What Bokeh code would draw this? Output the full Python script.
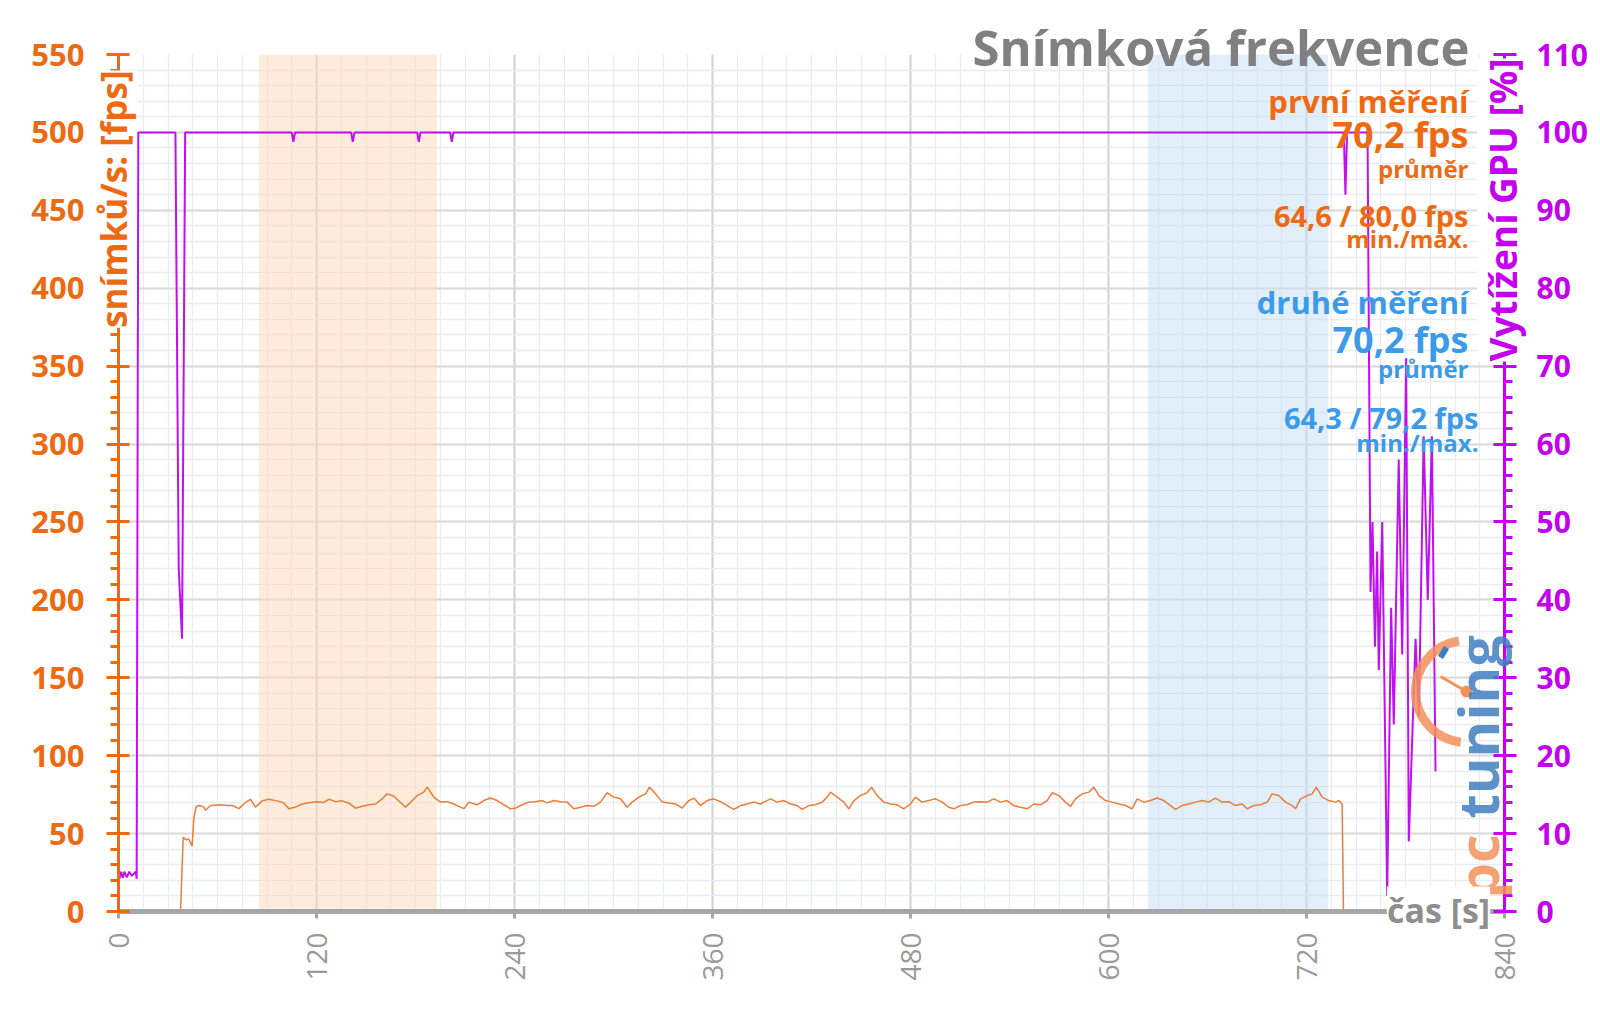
import numpy as np
from bokeh.plotting import figure
from bokeh.models import Range1d, LinearAxis, SingleIntervalTicker, BoxAnnotation, Label
from bokeh.embed import file_html
from bokeh.resources import INLINE

# ---------------- data ----------------
fps_time = [0, 37.6, 39.2, 41, 42.6, 44.6, 45.7, 47.1, 49, 51.7, 52.7, 55.8, 61.8, 65.9, 68.9, 72.9, 77, 80, 83, 87.1,
            91.1, 96.1, 100.2, 103.2, 107.3, 111.3, 116.4, 120.4, 124.4, 127.5, 131.5, 135.6, 139.6, 143.7, 147.7,
            151.7, 155.8, 159.8, 162.8, 166.9, 170.9, 173.9, 177, 181, 185, 187.1, 191.1, 195.2, 199.2, 203.2, 207.3,
            209.3, 212.3, 217.3, 221.4, 225.4, 229.5, 233.5, 237.6, 240.6, 244.6, 248.7, 252.7, 256.8, 259.8, 263.8,
            267.9, 271.9, 275.9, 280, 284, 288.1, 292.1, 296.2, 300.2, 304.2, 308.3, 311.3, 315.4, 319.4, 321.8,
            325.5, 329.5, 333.5, 337.6, 341.6, 345.7, 348.7, 352.7, 356.8, 360.8, 364.8, 368.9, 372.9, 377, 381, 385,
            389.1, 393.1, 395.2, 399.2, 403.2, 407.3, 411.3, 414.3, 418.4, 422.4, 426.5, 429.5, 431.5, 435.6, 439.6,
            442.6, 445.7, 449.7, 453.7, 456.4, 459.8, 463.8, 467.9, 471.9, 475.9, 480, 483, 487, 491.1, 495.2, 499.2,
            503.2, 506.3, 510.3, 514.3, 518.4, 522.4, 526.5, 530.5, 534.5, 538.6, 542.6, 546.7, 550.7, 554.7, 558.8,
            562.8, 565.9, 569.9, 573.9, 577, 580, 584.1, 588.1, 591.1, 594.2, 598.2, 602.2, 606.3, 610.3, 614.3,
            617.4, 621.4, 625.5, 629.5, 633.5, 637.6, 640.6, 644.6, 648.7, 652.7, 656.8, 660.8, 664.8, 668.9, 672.9,
            677, 681, 684, 688.1, 692.1, 696.2, 699.2, 703.2, 707.3, 711.3, 713.3, 716.4, 720.4, 723.4, 726, 729.5,
            733.5, 737.6, 739.6, 741.6, 742.4, 767]
fps_values = [0, 0, 47.6, 46, 46.5, 42, 60, 67.4, 68, 67, 65, 68, 68.5, 68, 68, 66, 70, 72, 67, 71,
              72, 71, 69.7, 66, 67, 69, 70, 70.5, 70, 72, 70.5, 71, 69.5, 66.3, 67.5,
              68.5, 69, 72.3, 75.5, 74, 70, 67, 70, 74.4, 76.6, 79.8, 73.4, 70.2, 70.5, 69, 67,
              66, 70.2, 68.5, 71.2, 72.8, 71.2, 68.5, 65.9, 66.3, 68.5, 70.2, 70.5, 71.2, 69.7, 71.2,
              70.5, 70.2, 65.9, 66.9, 68, 67.5, 70.2, 76.2, 73.4, 72.3, 66.9, 70.2, 73.4, 75.5, 79.8,
              75.5, 70.2, 69.7, 69, 66.3, 71.2, 72.8, 68, 71.2, 72.3, 70.5, 68, 65.5, 68, 69, 70.2,
              69, 71.2, 72.3, 70.2, 71.2, 69, 68, 65.5, 68, 68.5, 70.2, 73.4, 76.6, 73.4, 70.2,
              65.9, 71.2, 74.4, 76.2, 79.8, 74.4, 70.2, 69, 68.5, 65.9, 69, 73.4, 70.2, 71.2, 72.3, 70.2,
              66.9, 65.9, 68, 68.5, 70.2, 70.5, 70.2, 72.3, 70.2, 71.2, 68, 66.9, 65.9, 69, 68.5,
              71.2, 76.2, 74.4, 70.2, 67.5, 72.3, 75.5, 76.6, 79.8, 74.4, 71.2, 70.2, 69, 68, 65.9,
              72.3, 70.2, 71.2, 72.8, 71.2, 68, 65.5, 68, 69, 70.2, 71.2, 70.2, 72.8, 70.2, 70.5,
              68, 69, 65.9, 68, 68.5, 70.2, 75.5, 74.4, 70.2, 68, 65.9, 72.3, 74.4, 75.5, 79.8, 73.4,
              71.2, 70.2, 71.2, 69, 0, 0]

gpu_time = [0.5, 1.5, 2.5, 3.5, 5, 6.5, 8, 10.5, 11, 12, 34.5, 36.5, 38.5, 40.4, 105, 106, 107, 141, 142, 143,
            181, 182, 183, 201, 202, 203, 742.6, 743.6, 744.6, 757, 758.8, 760, 761.5, 762.8, 763.8, 765.9, 768.9,
            771.3, 772.9, 775.9, 778, 780.4, 782, 786.1, 788.1, 791, 793.5, 796, 798.2]
gpu_values = [4.2, 5.1, 4.3, 5.1, 4.4, 5.1, 4.6, 5.1, 4.2, 100, 100, 44, 35, 100, 100, 98.8, 100, 100, 98.8, 100,
              100, 98.8, 100, 100, 98.8, 100, 100, 92, 100, 100, 41, 50, 34, 46.2, 31, 50, 2,
              39, 24, 58, 33, 71, 9, 35, 25, 61, 40, 61, 18]

run_bands = [(85, 193), (624, 733)]
run_colors = ["#FBD9B8", "#C5DDF6"]

first_run = ["první měření", "70,2 fps", "průměr", "64,6 / 80,0 fps", "min./max."]
second_run = ["druhé měření", "70,2 fps", "průměr", "64,3 / 79,2 fps", "min./max."]

# ---------------- layout ----------------
W, H = 1600, 1009
L, R, T, B = 118, 96, 54, 98
XMAX, YMAX, GMAX = 840, 550, 110

def X(px):
    return (px - L) / (W - L - R) * XMAX

def Y(py):
    return (H - B - py) / (H - T - B) * YMAX

ORANGE = "#EE6A12"
MAGENTA = "#C400EE"
BLUE = "#3C9BE8"
GRAY = "#A6A6A6"
FONT = "Open Sans"

p = figure(width=W, height=H, x_range=Range1d(0, XMAX), y_range=Range1d(0, YMAX),
           output_backend="svg", toolbar_location=None,
           min_border_left=L, min_border_right=R, min_border_top=T, min_border_bottom=B)
p.extra_y_ranges = {"gpu": Range1d(0, GMAX)}
p.outline_line_color = None
p.background_fill_color = "white"
p.border_fill_color = "white"

# grids
xt = SingleIntervalTicker(interval=120, num_minor_ticks=8)
yt = SingleIntervalTicker(interval=50, num_minor_ticks=5)
p.xgrid.ticker = xt
p.ygrid.ticker = yt
p.xgrid.grid_line_color = "#D2D2D2"
p.xgrid.grid_line_width = 2
p.ygrid.grid_line_color = "#DADADA"
p.ygrid.grid_line_width = 2
p.xgrid.minor_grid_line_color = "#E9ECF0"
p.ygrid.minor_grid_line_color = "#E9ECF0"
p.xgrid.minor_grid_line_width = 1.3
p.ygrid.minor_grid_line_width = 1.3

# bands
for (a, b), c in zip(run_bands, run_colors):
    p.add_layout(BoxAnnotation(left=a, right=b, fill_color=c, fill_alpha=0.5, line_color=None, level="underlay"))

# x axis
xa = p.xaxis[0]
xa.ticker = xt
xa.axis_line_color = GRAY
xa.axis_line_width = 5
xa.major_tick_line_color = GRAY
xa.major_tick_line_width = 3
xa.major_tick_in = 0
xa.major_tick_out = 7
xa.minor_tick_line_color = None
xa.major_label_orientation = np.pi / 2
xa.major_label_text_font = FONT
xa.major_label_text_font_size = "28px"
xa.major_label_text_color = "#9A9A9A"
xa.major_label_standoff = 14

# left axis
ya = p.yaxis[0]
ya.ticker = yt
ya.axis_line_color = ORANGE
ya.axis_line_width = 3
ya.major_tick_line_color = ORANGE
ya.major_tick_line_width = 3
ya.major_tick_in = 11
ya.major_tick_out = 12
ya.minor_tick_line_color = ORANGE
ya.minor_tick_line_width = 3
ya.minor_tick_in = 0
ya.minor_tick_out = 8
ya.major_label_text_font = FONT
ya.major_label_text_font_style = "bold"
ya.major_label_text_font_size = "31px"
ya.major_label_text_color = ORANGE
ya.major_label_standoff = 22

# right axis
ra = LinearAxis(y_range_name="gpu", ticker=SingleIntervalTicker(interval=10, num_minor_ticks=5))
ra.axis_line_color = MAGENTA
ra.axis_line_width = 3
ra.major_tick_line_color = MAGENTA
ra.major_tick_line_width = 3
ra.major_tick_in = 11
ra.major_tick_out = 12
ra.minor_tick_line_color = MAGENTA
ra.minor_tick_line_width = 3
ra.minor_tick_in = 0
ra.minor_tick_out = 8
ra.major_label_text_font = FONT
ra.major_label_text_font_style = "bold"
ra.major_label_text_font_size = "30px"
ra.major_label_text_color = MAGENTA
ra.major_label_standoff = 20
p.add_layout(ra, "right")

# data lines
p.line(fps_time, fps_values, line_color="#EC7C36", line_width=1.5)
p.line(gpu_time, gpu_values, y_range_name="gpu", line_color="#C010F0", line_width=2)

# run annotations (inside the frame)
sizes = ["31px", "36px", "24px", "29px", "24px"]
first_y = [100, 134, 168, 215, 238]
second_y = [301, 339, 368, 417, 442]
second_x = [1468, 1468, 1468, 1478, 1478]
for txt, yy, sz in zip(first_run, first_y, sizes):
    p.add_layout(Label(x=X(1468), y=Y(yy), text=txt, text_align="right", text_baseline="middle",
                       text_font=FONT, text_font_style="bold", text_font_size=sz, text_color=ORANGE))
for txt, yy, xx, sz in zip(second_run, second_y, second_x, sizes):
    p.add_layout(Label(x=X(xx), y=Y(yy), text=txt, text_align="right", text_baseline="middle",
                       text_font=FONT, text_font_style="bold", text_font_size=sz, text_color=BLUE))

# ---------------- overlay for texts that straddle the frame edge ----------------
ov = figure(width=W, height=H, x_range=Range1d(0, W), y_range=Range1d(H, 0),
            output_backend="svg", toolbar_location=None, min_border=0,
            x_axis_location=None, y_axis_location=None)
ov.xgrid.visible = False
ov.ygrid.visible = False
ov.outline_line_color = None
ov.background_fill_alpha = 0
ov.border_fill_alpha = 0
ov.styles = {"position": "absolute", "left": "0px", "top": "0px"}

# watermark logo
LOGO = "#F2915A"
ov.arc(x=[1466], y=[691], radius=51, radius_units="screen", start_angle=1.72, end_angle=4.6,
       line_color=LOGO, line_width=9, line_alpha=0.85)
ov.segment(x0=[1440], y0=[657], x1=[1446], y1=[647], line_color="#3F7FC0", line_width=6)
ov.segment(x0=[1466], y0=[691], x1=[1440], y1=[676], line_color=LOGO, line_width=3)
ov.scatter(x=[1466], y=[691], size=11, color=LOGO)
ov.add_layout(Label(x=1476, y=898, text="pc", angle=np.pi / 2, text_align="left",
                    text_baseline="middle", text_font=FONT, text_font_style="bold", text_font_size="56px",
                    text_color=LOGO, text_alpha=0.85))
ov.add_layout(Label(x=1476, y=818, text="tuning", angle=np.pi / 2, text_align="left",
                    text_baseline="middle", text_font=FONT, text_font_style="bold", text_font_size="56px",
                    text_color="#3F7FC0", text_alpha=0.85))

ov.add_layout(Label(x=1469, y=46, text="Snímková frekvence", text_align="right", text_baseline="middle",
                    text_font=FONT, text_font_style="bold", text_font_size="49px", text_color="#808080"))
ov.add_layout(Label(x=113, y=70, text="snímků/s: [fps]", angle=np.pi / 2, text_align="right",
                    text_baseline="middle", text_font=FONT, text_font_style="bold", text_font_size="35px",
                    text_color=ORANGE, background_fill_color="white"))
ov.add_layout(Label(x=1502, y=58, text="Vytížení GPU [%]", angle=np.pi / 2, text_align="right",
                    text_baseline="middle", text_font=FONT, text_font_style="bold", text_font_size="37px",
                    text_color=MAGENTA, background_fill_color="white"))
ov.add_layout(Label(x=1438, y=909, text="čas [s]", text_align="center", text_baseline="middle",
                    text_font=FONT, text_font_style="bold", text_font_size="34px", text_color="#8E8E8E",
                    background_fill_color="white"))

open("out.html", "w").write(file_html([p, ov], INLINE))
